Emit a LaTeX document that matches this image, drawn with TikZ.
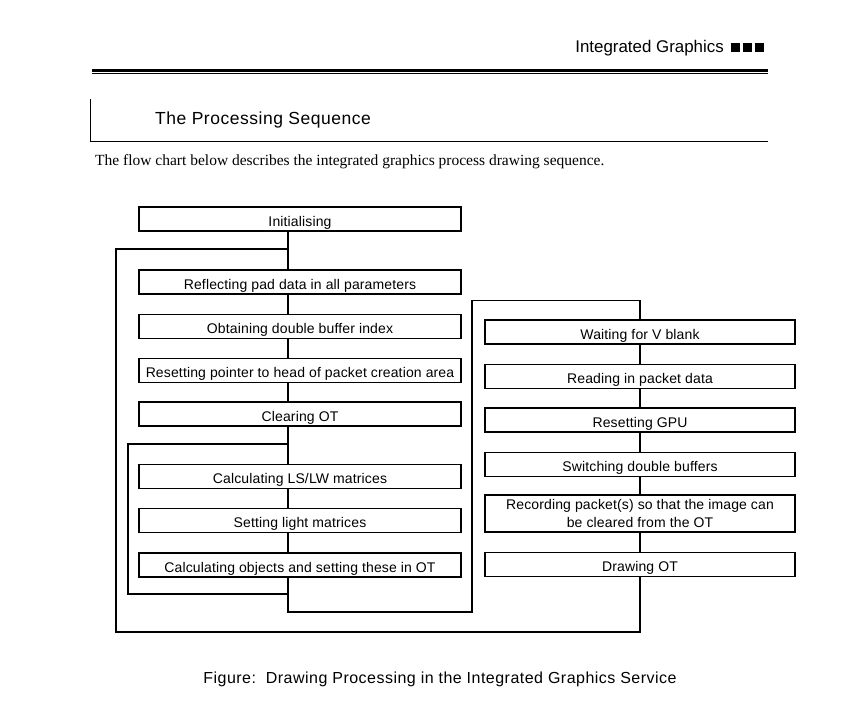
\documentclass[tikz,border=0pt]{standalone}
\usepackage{fontspec}
\setmainfont{Liberation Sans}
\newfontfamily\serifrm{Liberation Serif}
\newfontfamily\boxfont[LetterSpace=1]{Liberation Sans}
\newfontfamily\spacedfont[LetterSpace=3]{Liberation Sans}
\begin{document}
\begin{tikzpicture}[x=1pt,y=-1pt,
  stepbox/.style={draw=black,line width=1.3pt,rectangle,inner sep=0pt,minimum height=24pt,
    font=\boxfont\fontsize{14}{17}\selectfont,text height=14pt,text depth=0pt},
  lbox/.style={stepbox,minimum width=322pt},
  rbox/.style={stepbox,minimum width=310pt},
  conn/.style={line width=1.2pt,line cap=rect}]
\useasboundingbox (0,0) rectangle (860,725);
% header
\node[anchor=east,font=\fontsize{16.9}{19}\selectfont,inner sep=0pt] (hdr) at (724,48) {Integrated Graphics};
\fill (731,43) rectangle (740,52);
\fill (743,43) rectangle (752,52);
\fill (755,43) rectangle (764,52);
\draw[line width=3pt] (92,70.5) -- (768,70.5);
\draw[line width=1.2pt] (92,73.8) -- (768,73.8);
% section title
\draw[line width=1pt] (90,99) -- (90,141) -- (768,141);
\node[anchor=west,font=\spacedfont\fontsize{17.5}{20}\selectfont,inner sep=0pt] (title) at (155,120) {The Processing Sequence};
\node[anchor=west,font=\serifrm\fontsize{15.5}{18}\selectfont,inner sep=0pt] (intro) at (95,162) {The flow chart below describes the integrated graphics process drawing sequence.};
% left boxes
\node[lbox] (init) at (300,219) {Initialising};
\node[lbox] (refl) at (300,282) {Reflecting pad data in all parameters};
\node[lbox] (obt) at (300,326.5) {Obtaining double buffer index};
\node[lbox] (rptr) at (300,370.5) {Resetting pointer to head of packet creation area};
\node[lbox] (clr) at (300,414) {Clearing OT};
\node[lbox] (lslw) at (300,476.5) {Calculating LS/LW matrices};
\node[lbox] (light) at (300,520.5) {Setting light matrices};
\node[lbox] (objs) at (300,565) {Calculating objects and setting these in OT};
% right boxes
\node[rbox] (vbl) at (640,332) {Waiting for V blank};
\node[rbox] (rd) at (640,376.5) {Reading in packet data};
\node[rbox] (gpu) at (640,420) {Resetting GPU};
\node[rbox] (sw) at (640,464.5) {Switching double buffers};
\node[rbox,minimum height=37pt,align=center,font=\boxfont\fontsize{14}{17.3}\selectfont,text height=,text depth=] (rec) at (640,513.5) {Recording packet(s) so that the image can\\be cleared from the OT};
\node[rbox] (dot) at (640,564.5) {Drawing OT};
% coordinates
\coordinate (L) at (288,0);
\coordinate (j1) at (288,249);
\coordinate (j2) at (288,444);
\coordinate (o1) at (116,632);
\coordinate (i1) at (128,594);
\coordinate (i2) at (288,594);
\coordinate (d1) at (288,612);
\coordinate (d2) at (472,612);
\coordinate (t1) at (472,300.5);
\coordinate (t2) at (640,300.5);
\coordinate (b1) at (640,632);
% left connectors
\draw[conn] (init.south -| L) -- (refl.north -| L);
\draw[conn] (refl.south -| L) -- (obt.north -| L);
\draw[conn] (obt.south -| L) -- (rptr.north -| L);
\draw[conn] (rptr.south -| L) -- (clr.north -| L);
\draw[conn] (clr.south -| L) -- (lslw.north -| L);
\draw[conn] (lslw.south -| L) -- (light.north -| L);
\draw[conn] (light.south -| L) -- (objs.north -| L);
% inner loop
\draw[conn] (j2) -| (i1) |- (i2);
% to right column
\draw[conn] (objs.south -| L) -- (d1) -- (d2) -- (t1) -- (t2) -- (vbl.north);
% right connectors
\draw[conn] (vbl.south) -- (rd.north);
\draw[conn] (rd.south) -- (gpu.north);
\draw[conn] (gpu.south) -- (sw.north);
\draw[conn] (sw.south) -- (rec.north);
\draw[conn] (rec.south) -- (dot.north);
% outer loop
\draw[conn] (dot.south) -- (b1) -- (o1) |- (j1);
% caption
\node[font=\spacedfont\fontsize{16}{19}\selectfont,inner sep=0pt] (cap) at (440,679) {Figure:\ \ Drawing Processing in the Integrated Graphics Service};
\end{tikzpicture}
\end{document}
